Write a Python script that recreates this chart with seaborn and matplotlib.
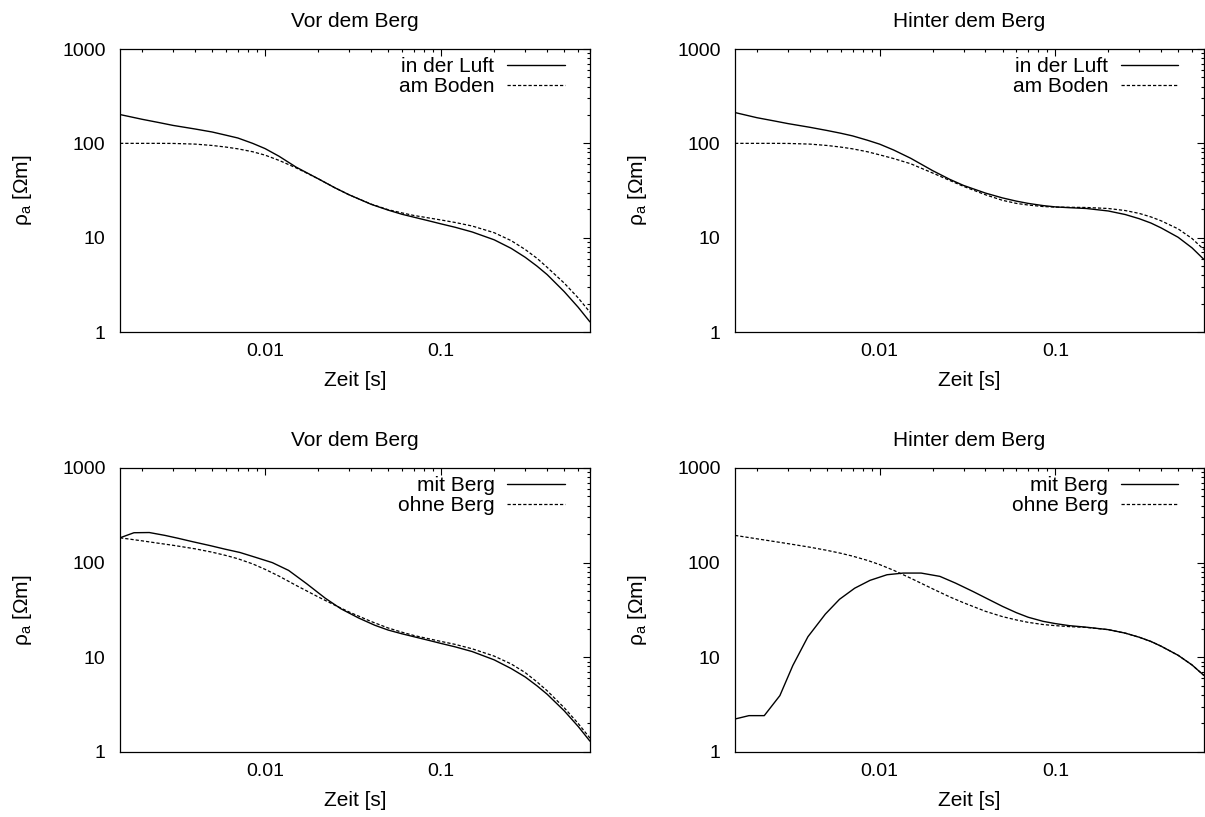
import matplotlib
matplotlib.use('Agg')
import matplotlib.pyplot as plt
import matplotlib.ticker as mticker
import seaborn as sns

# ---------------- data ----------------
t_fine = [0.0015, 0.002, 0.0025, 0.003, 0.004, 0.005, 0.006, 0.007, 0.0085,
          0.01, 0.012, 0.015, 0.02, 0.025, 0.03, 0.04, 0.05, 0.06, 0.07, 0.085,
          0.1, 0.12, 0.15, 0.2, 0.25, 0.3, 0.35, 0.4, 0.5, 0.6, 0.7]
t_coarse = [0.0015, 0.0018, 0.0022, 0.0027, 0.0032, 0.0039, 0.0049, 0.0059,
            0.0072, 0.0088, 0.011, 0.0136, 0.0172, 0.022, 0.027, 0.034, 0.042,
            0.05, 0.06, 0.07, 0.085, 0.1, 0.12, 0.15, 0.2, 0.25, 0.3, 0.35,
            0.4, 0.5, 0.6, 0.7]

vor_luft = [202, 180, 166, 155, 142, 132, 122, 114, 100, 88, 73, 56, 42.2,
            33.7, 28.5, 22.6, 19.6, 17.7, 16.5, 15.1, 14.0, 12.9, 11.5, 9.5,
            7.7, 6.2, 5.0, 4.06, 2.68, 1.83, 1.28]
vor_boden = [100, 100, 100, 99.8, 98.2, 95, 91.3, 87.5, 81.5, 75, 66, 55,
             42.2, 33.7, 28.5, 22.7, 19.8, 18.3, 17.2, 16.2, 15.4, 14.5, 13.3,
             11.3, 9.3, 7.5, 6.05, 4.85, 3.3, 2.3, 1.62]

hin_luft = [212, 187, 173, 162, 148, 137, 128, 120, 108, 98, 85, 69.5, 51.4,
            41.6, 35.8, 29.7, 26.4, 24.4, 23.1, 21.9, 21.2, 20.8, 20.4, 19.2,
            17.6, 15.9, 14.3, 12.7, 10.1, 7.8, 5.9]
hin_boden = [100, 100, 100, 99.8, 98.2, 95, 91.3, 87.5, 81.5, 75.5, 69, 60.8,
             48.5, 40.5, 35, 28.5, 24.9, 23.1, 22.2, 21.4, 21.1, 21.0, 20.9,
             20.4, 19.4, 18.1, 16.6, 15.1, 12.4, 9.8, 7.5]

vor_mit = [183, 207, 208, 194, 181, 166, 151, 139, 128, 114, 100, 82.8, 60,
           42, 32.5, 26, 21.8, 19.4, 17.7, 16.5, 15.1, 14, 12.9, 11.5, 9.4,
           7.6, 6.2, 5.0, 4.07, 2.72, 1.86, 1.3]
vor_ohne = [183, 170, 160, 152.5, 140, 129, 119, 110, 97, 85, 72, 57.5, 43.5,
            35.4, 30.1, 23.9, 20.4, 18.4, 17.0, 15.7, 14.7, 13.7, 12.3, 10.3,
            8.5, 6.9, 5.5, 4.43, 2.93, 2.0, 1.4]

hin_mit = [2.23, 2.42, 2.42, 3.94, 8.2, 16.5, 28.6, 41, 53.7, 65, 74.5, 77.6,
           77.6, 71.6, 60.8, 49.5, 40.6, 34.5, 29.6, 26.5, 24.0, 22.7, 21.6,
           20.8, 19.6, 18.0, 16.3, 14.7, 13.1, 10.5, 8.3, 6.45]
hin_ohne = [194, 178.5, 167.4, 158.8, 145.6, 134.9, 125.6, 117.2, 105.7, 95.3,
            83, 68.5, 52.9, 43.5, 37.7, 30.6, 26.9, 24.8, 23.4, 22.2, 21.6,
            21.1, 20.7, 19.6, 18.0, 16.3, 14.7, 13.1, 10.5, 8.3, 6.45]

titles = ["Vor dem Berg", "Hinter dem Berg", "Vor dem Berg", "Hinter dem Berg"]
labels_top = ["in der Luft", "am Boden"]
labels_bottom = ["mit Berg", "ohne Berg"]
x_label = "Zeit [s]"
y_label = "ρ$_a$ [Ωm]"
x_ticks = [0.01, 0.1]
y_ticks = [1, 10, 100, 1000]

panels = [
    (titles[0], labels_top, (t_fine, vor_luft), (t_fine, vor_boden)),
    (titles[1], labels_top, (t_fine, hin_luft), (t_fine, hin_boden)),
    (titles[2], labels_bottom, (t_coarse, vor_mit), (t_fine, vor_ohne)),
    (titles[3], labels_bottom, (t_coarse, hin_mit), (t_fine, hin_ohne)),
]

# ---------------- style ----------------
sns.set_theme(style='white')
plt.rcParams['font.family'] = ['Liberation Sans', 'DejaVu Sans']
plt.rcParams['mathtext.fontset'] = 'custom'
plt.rcParams['mathtext.rm'] = 'Liberation Sans'
plt.rcParams['mathtext.it'] = 'Liberation Sans'
plt.rcParams['mathtext.default'] = 'regular'
plt.rcParams['font.size'] = 14
plt.rcParams['axes.edgecolor'] = 'black'
plt.rcParams['axes.linewidth'] = 0.9
plt.rcParams['text.color'] = 'black'
plt.rcParams['axes.labelcolor'] = 'black'

FS_TICK = 14
FS_TEXT = 15

fig = plt.figure(figsize=(12.05, 8.17), dpi=100)
positions = [
    [0.0996, 0.5936, 0.390, 0.3464],
    [0.6100, 0.5936, 0.389, 0.3464],
    [0.0996, 0.0796, 0.390, 0.3476],
    [0.6100, 0.0796, 0.389, 0.3476],
]

fmt = mticker.FuncFormatter(lambda v, _: f'{v:g}')
dash = (0, (2.6, 1.6))

for pos, (title, labs, s1, s2) in zip(positions, panels):
    ax = fig.add_axes(pos)
    ax.set_xscale('log')
    ax.set_yscale('log')
    sns.lineplot(x=s1[0], y=s1[1], ax=ax, color='black', linewidth=1.0,
                 linestyle='-', label=labs[0], legend=False)
    sns.lineplot(x=s2[0], y=s2[1], ax=ax, color='black', linewidth=0.9,
                 linestyle=dash, label=labs[1], legend=False)
    ax.set_xlim(0.0015, 0.7)
    ax.set_ylim(1, 1000)
    ax.xaxis.set_major_locator(mticker.FixedLocator(x_ticks))
    ax.yaxis.set_major_locator(mticker.FixedLocator(y_ticks))
    ax.xaxis.set_minor_locator(mticker.LogLocator(base=10, subs=range(2, 10), numticks=20))
    ax.yaxis.set_minor_locator(mticker.LogLocator(base=10, subs=range(2, 10), numticks=20))
    ax.xaxis.set_major_formatter(fmt)
    ax.yaxis.set_major_formatter(fmt)
    ax.xaxis.set_minor_formatter(mticker.NullFormatter())
    ax.yaxis.set_minor_formatter(mticker.NullFormatter())
    ax.tick_params(which='both', direction='in', top=True, right=True,
                   colors='black', width=0.8, labelsize=FS_TICK)
    ax.tick_params(axis='x', which='major', pad=8)
    ax.tick_params(axis='y', which='major', pad=10.4)
    ax.tick_params(which='major', length=5)
    ax.tick_params(which='minor', length=2.5)
    for sp in ax.spines.values():
        sp.set_color('black')
        sp.set_linewidth(0.9)
    ax.set_title(title, fontsize=FS_TEXT, pad=16)
    ax.set_xlabel(x_label, fontsize=FS_TEXT, labelpad=7.7)
    ax.set_ylabel(y_label, fontsize=FS_TEXT, labelpad=20)
    ax.legend(loc='upper right', bbox_to_anchor=(0.946, 0.972),
              markerfirst=False, frameon=False, handlelength=2.75,
              handletextpad=0.62, labelspacing=0.07, borderpad=0,
              borderaxespad=0, fontsize=FS_TEXT)

fig.savefig('out.png', dpi=100)
